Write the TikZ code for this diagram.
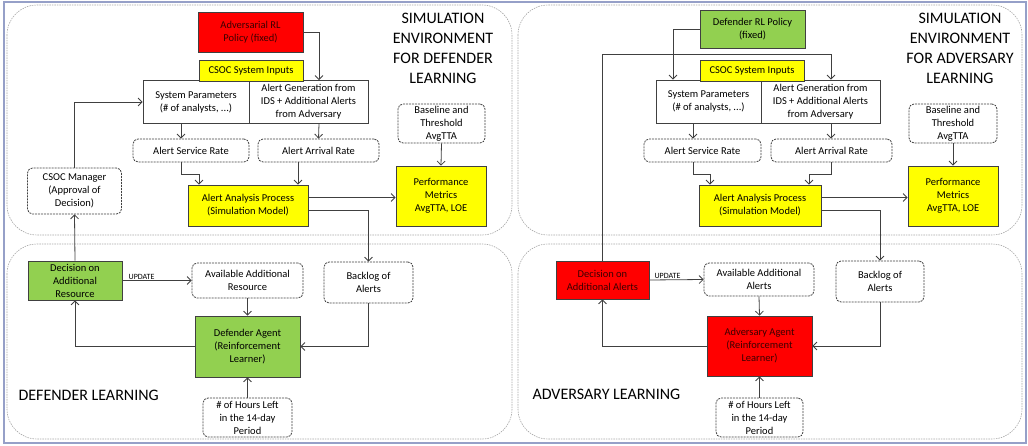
\documentclass[tikz,border=0pt]{standalone}
\usepackage{fontspec}
\setmainfont{Carlito}
\usepackage{tikz}
\usetikzlibrary{arrows.meta}
\definecolor{boxred}{RGB}{255,0,0}
\definecolor{boxgreen}{RGB}{146,208,80}
\definecolor{boxyellow}{RGB}{255,255,0}
\definecolor{edgegray}{RGB}{64,64,64}
\definecolor{framegray}{RGB}{150,160,200}
\definecolor{redtext}{RGB}{60,0,0}

\begin{document}
\begin{tikzpicture}[x=1pt, y=-1pt,
  box/.style={draw=edgegray, line width=0.8pt, align=center, inner sep=1pt, font=\fontsize{10.5}{13}\selectfont},
  solidbox/.style={box, fill=white},
  dashbox/.style={box, dash pattern=on 2pt off 1pt, rounded corners=5pt, fill=white},
  redbox/.style={box, fill=boxred, text=redtext},
  greenbox/.style={box, fill=boxgreen},
  yellowbox/.style={box, fill=boxyellow},
  panel/.style={draw=gray!70, dash pattern=on 1.5pt off 1pt, line width=0.6pt, rounded corners=30pt},
  conn/.style={draw=edgegray, line width=0.8pt, -{Straight Barb[length=4pt,width=8pt]}},
  title/.style={align=center, font=\fontsize{16}{20}\selectfont},
  updlbl/.style={font=\fontsize{8}{9}\selectfont, inner sep=1pt}
]
  \useasboundingbox (0,0) rectangle (1028,446);
  \draw[framegray, line width=1.2pt] (4,2) rectangle (1026,443);

  % panels
  \draw[panel] (7,5) rectangle (512,235);
  \draw[panel] (7,244) rectangle (512,439);
  \draw[panel] (518,5) rectangle (1022,235);
  \draw[panel] (518,244) rectangle (1022,439);

  % simulation environment for defender learning
  \node[redbox, minimum width=105, minimum height=40] (advpol) at (250.5,32.5) {Adversarial RL\\Policy (fixed)};
  \node[solidbox, minimum width=106, minimum height=43] (sysL) at (196,102) {System Parameters\\(\# of analysts, ...)};
  \node[solidbox, minimum width=119, minimum height=43] (genL) at (308.5,102) {Alert Generation from\\IDS + Additional Alerts\\from Adversary};
  \node[yellowbox, minimum width=104, minimum height=21] (inL) at (251,70.5) {CSOC System Inputs};
  \node[dashbox, minimum width=116, minimum height=23] (srvL) at (191,150.5) {Alert Service Rate};
  \node[dashbox, minimum width=121, minimum height=23] (arrL) at (318.5,150.5) {Alert Arrival Rate};
  \node[yellowbox, minimum width=120, minimum height=41] (anaL) at (248,205.5) {Alert Analysis Process\\(Simulation Model)};
  \node[dashbox, minimum width=87, minimum height=39] (baseL) at (441.5,123.5) {Baseline and\\Threshold\\AvgTTA};
  \node[yellowbox, minimum width=90, minimum height=60] (perfL) at (441,196) {Performance\\Metrics\\AvgTTA, LOE};
  \node[dashbox, minimum width=94, minimum height=46] (mgr) at (74.5,191) {CSOC Manager\\(Approval of\\Decision)};
  \node[title] (ttlL) at (443,48) {SIMULATION\\ENVIRONMENT\\FOR DEFENDER\\LEARNING};

  % defender learning
  \node[greenbox, minimum width=94, minimum height=39] (decL) at (75,280.5) {Decision on\\Additional\\Resource};
  \node[dashbox, minimum width=111, minimum height=35] (availL) at (247.5,280.5) {Available Additional\\Resource};
  \node[dashbox, minimum width=89, minimum height=41] (backL) at (368.5,282.5) {Backlog of\\Alerts};
  \node[greenbox, minimum width=105, minimum height=61] (agentL) at (247.5,346.5) {Defender Agent\\(Reinforcement\\Learner)};
  \node[dashbox, minimum width=89, minimum height=39] (hoursL) at (247.5,417.5) {\# of Hours Left\\in the 14-day\\Period};
  \node[title, anchor=west] (lrnL) at (15,395) {DEFENDER LEARNING};

  % simulation environment for adversary learning
  \node[greenbox, minimum width=105, minimum height=38] (defpol) at (752.5,29) {Defender RL Policy\\(fixed)};
  \node[solidbox, minimum width=105, minimum height=43] (sysR) at (708.5,101.5) {System Parameters\\(\# of analysts, ...)};
  \node[solidbox, minimum width=119, minimum height=43] (genR) at (820.5,101.5) {Alert Generation from\\IDS + Additional Alerts\\from Adversary};
  \node[yellowbox, minimum width=104, minimum height=21] (inR) at (752,70.5) {CSOC System Inputs};
  \node[dashbox, minimum width=117, minimum height=23] (srvR) at (702.5,150.5) {Alert Service Rate};
  \node[dashbox, minimum width=121, minimum height=23] (arrR) at (831.5,150.5) {Alert Arrival Rate};
  \node[yellowbox, minimum width=122, minimum height=41] (anaR) at (760,205.5) {Alert Analysis Process\\(Simulation Model)};
  \node[dashbox, minimum width=88, minimum height=39] (baseR) at (953,123.5) {Baseline and\\Threshold\\AvgTTA};
  \node[yellowbox, minimum width=90, minimum height=60] (perfR) at (953,196) {Performance\\Metrics\\AvgTTA, LOE};
  \node[title] (ttlR) at (960,48) {SIMULATION\\ENVIRONMENT\\FOR ADVERSARY\\LEARNING};

  % adversary learning
  \node[redbox, minimum width=93, minimum height=38] (decR) at (602.5,280) {Decision on\\Additional Alerts};
  \node[dashbox, minimum width=110, minimum height=33] (availR) at (759,279.5) {Available Additional\\Alerts};
  \node[dashbox, minimum width=88, minimum height=41] (backR) at (880,281.5) {Backlog of\\Alerts};
  \node[redbox, minimum width=105, minimum height=60] (agentR) at (759.5,346) {Adversary Agent\\(Reinforcement\\Learner)};
  \node[dashbox, minimum width=87, minimum height=39] (hoursR) at (759.5,417.5) {\# of Hours Left\\in the 14-day\\Period};
  \node[title, anchor=west] (lrnR) at (529,394) {ADVERSARY LEARNING};

  % connectors, left
  \draw[conn] (advpol.east) -| ([xshift=10.5pt]genL.north);
  \draw[conn] (mgr.north) |- (sysL.west);
  \draw[conn] ([xshift=-15pt]sysL.south) -- ([xshift=-10pt]srvL.north);
  \draw[conn] ([xshift=10.5pt]genL.south) -- (arrL.north);
  \draw[conn] ([xshift=-10pt]srvL.south) |- ([xshift=-49pt,yshift=10pt]anaL.north) -- ([xshift=-49pt]anaL.north);
  \draw[conn] ([xshift=-20.5pt]arrL.south) -- ([xshift=50pt]anaL.north);
  \draw[conn] ([yshift=8pt]anaL.east) -- ([yshift=-1.5pt]perfL.west);
  \draw[conn] ([yshift=-5pt]anaL.east) -| (backL.north);
  \draw[conn] (baseL.south) -- (perfL.north);
  \draw[conn] (decL.east) -- node[updlbl, pos=0.07, anchor=south west] {UPDATE} (availL.west);
  \draw[conn] (availL.south) -- (agentL.north);
  \draw[conn] (backL.south) |- (agentL.east);
  \draw[conn] (agentL.west) -| (decL.south);
  \draw[conn] (hoursL.north) -- (agentL.south);
  \draw[conn] (decL.north) -- (mgr.south);

  % connectors, right
  \draw[conn] (defpol.west) -| ([xshift=-35.5pt]sysR.north);
  \draw[conn] (decR.north) |- ([xshift=10.5pt,yshift=25pt]genR.north) -- ([xshift=10.5pt]genR.north);
  \draw[conn] ([xshift=-15.5pt]sysR.south) -- ([xshift=-9.5pt]srvR.north);
  \draw[conn] ([xshift=10.5pt]genR.south) -- ([xshift=-0.5pt]arrR.north);
  \draw[conn] ([xshift=-9.5pt]srvR.south) |- ([xshift=-50pt,yshift=10pt]anaR.north) -- ([xshift=-50pt]anaR.north);
  \draw[conn] (arrR.south) |- ([xshift=49pt,yshift=10pt]anaR.north) -- ([xshift=49pt]anaR.north);
  \draw[conn] ([yshift=8pt]anaR.east) -- ([yshift=-1.5pt]perfR.west);
  \draw[conn] ([yshift=-5pt]anaR.east) -| (backR.north);
  \draw[conn] (baseR.south) -- (perfR.north);
  \draw[conn] (decR.east) -- node[updlbl, pos=0.07, anchor=south west] {UPDATE} (availR.west);
  \draw[conn] (availR.south) -- (agentR.north);
  \draw[conn] (backR.south) |- (agentR.east);
  \draw[conn] (agentR.west) -| (decR.south);
  \draw[conn] (hoursR.north) -- (agentR.south);
\end{tikzpicture}
\end{document}
